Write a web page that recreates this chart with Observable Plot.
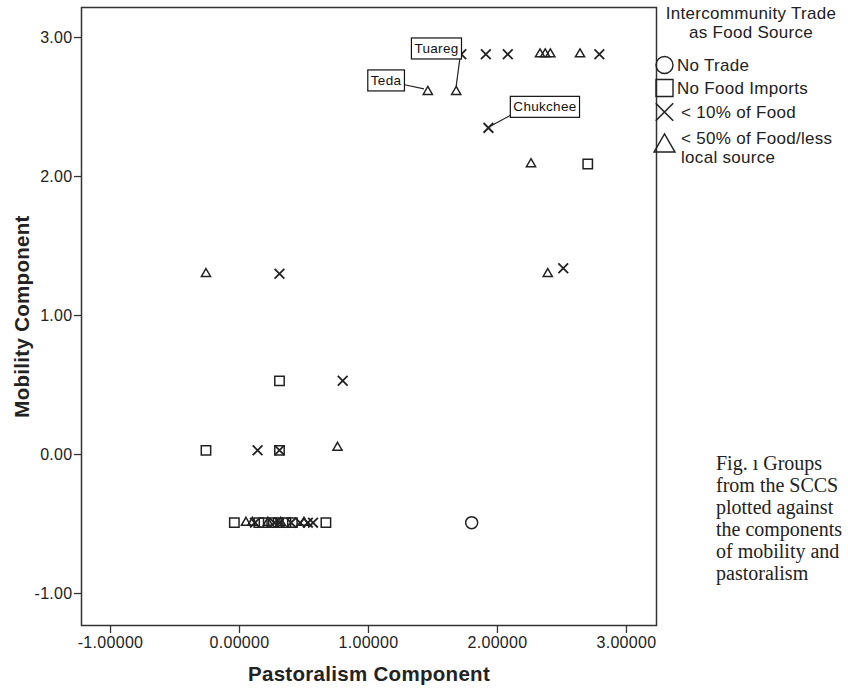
<!DOCTYPE html>
<html><head><meta charset="utf-8">
<script src="https://cdn.jsdelivr.net/npm/d3@7"></script>
<script src="https://cdn.jsdelivr.net/npm/@observablehq/plot@0.6"></script>
<style>
body{margin:0;background:#fff;}
#wrap{position:relative;width:848px;height:689px;overflow:hidden;font-family:"Liberation Sans",Arial,sans-serif;}
#wrap svg text{letter-spacing:0.3px;}
#legend{position:absolute;left:0;top:0;}
#caption{position:absolute;left:716px;top:452px;font-family:"Liberation Serif",serif;font-size:20px;line-height:22px;color:#222;white-space:nowrap;}
</style></head><body><div id="wrap"></div>
<script>
// Categories
const tradeTypes = ["No Trade", "No Food Imports", "< 10% of Food", "< 50% of Food/less local source"];
const legendLines = [["No Trade"], ["No Food Imports"], ["< 10% of Food"], ["< 50% of Food/less", "local source"]];
// Series values (pastoralism component, mobility component, trade type index)
const pastoralism = [
  1.72, 1.91, 2.08, 2.33, 2.37, 2.41, 2.64, 2.79,
  1.46, 1.68, 1.93,
  2.26, 2.70,
  2.39, 2.51,
  -0.26, 0.31,
  0.31, 0.80,
  -0.26, 0.14, 0.31, 0.31, 0.76,
  -0.04, 0.05, 0.10, 0.12, 0.15, 0.19, 0.22, 0.25, 0.27, 0.30, 0.31, 0.32, 0.36, 0.40, 0.41, 0.47, 0.50, 0.53, 0.57, 0.67,
  1.80
];
const mobility = [
  2.88, 2.88, 2.88, 2.88, 2.88, 2.88, 2.88, 2.88,
  2.61, 2.61, 2.35,
  2.09, 2.09,
  1.30, 1.34,
  1.30, 1.30,
  0.53, 0.53,
  0.03, 0.03, 0.03, 0.03, 0.05,
  -0.49, -0.49, -0.49, -0.49, -0.49, -0.49, -0.49, -0.49, -0.49, -0.49, -0.49, -0.49, -0.49, -0.49, -0.49, -0.49, -0.49, -0.49, -0.49, -0.49,
  -0.49
];
const trade = [
  2, 2, 2, 3, 3, 3, 3, 2,
  3, 3, 2,
  3, 1,
  3, 2,
  3, 2,
  1, 2,
  1, 2, 1, 2, 3,
  1, 3, 3, 2, 1, 1, 3, 1, 2, 1, 2, 3, 1, 2, 1, 2, 3, 2, 2, 1,
  0
];
// Tick labels
const xTicks = [-1, 0, 1, 2, 3];
const yTicks = [-1, 0, 1, 2, 3];
// Annotations
const annLabels = ["Teda", "Tuareg", "Chukchee"];
const annX = [1.136, 1.527, 2.368];
const annY = [2.69, 2.92, 2.50];
const annFromX = [1.28, 1.71, 2.12];
const annFromY = [2.66, 2.86, 2.45];
const annToX = [1.43, 1.68, 1.94];
const annToY = [2.63, 2.65, 2.36];

const data = pastoralism.map((x, i) => ({x, y: mobility[i], t: tradeTypes[trade[i]]}));
const ann = annLabels.map((label, i) => ({label, x: annX[i], y: annY[i], x1: annFromX[i], y1: annFromY[i], x2: annToX[i], y2: annToY[i]}));

const symbols = {"No Trade": ["circle", 6], "No Food Imports": ["square", 5.3], "< 10% of Food": ["times", 4.5], "< 50% of Food/less local source": ["triangle", 3.4]};
const ink = "#222";
const hy = f => d => d3.format(f)(d).replace("\u2212", "-");

const plot = Plot.plot({
  width: 848, height: 689,
  marginLeft: 81, marginRight: 192, marginTop: 7, marginBottom: 64,
  x: {domain: [-1.225, 3.233]},
  y: {domain: [-1.23, 3.216]},
  style: {fontFamily: "'Liberation Sans', Arial, sans-serif", background: "#fff", color: ink},
  marks: [
    Plot.axisX({ticks: xTicks, tickFormat: hy(".5f"), tickSize: 8, tickPadding: 3, fontSize: 16, label: null, stroke: "#333", strokeWidth: 1.3}),
    Plot.axisY({ticks: yTicks, tickFormat: hy(".2f"), tickSize: 7, tickPadding: 2, fontSize: 16, label: null, stroke: "#333", strokeWidth: 1.3}),
    Plot.text(["Pastoralism Component"], {frameAnchor: "bottom", dy: 55, fontSize: 20.5, fontWeight: "bold", fill: ink}),
    Plot.text(["Mobility Component"], {frameAnchor: "left", dx: -59, rotate: -90, textAnchor: "middle", lineAnchor: "middle", fontSize: 20.5, fontWeight: "bold", fill: ink}),
    Plot.frame({stroke: "#333", strokeWidth: 1.5}),
    Plot.link(ann, {x1: "x1", y1: "y1", x2: "x2", y2: "y2", stroke: ink, strokeWidth: 1.2}),
    ...tradeTypes.map(t => Plot.dot(data.filter(d => d.t === t), {x: "x", y: "y", symbol: () => symbols[t][0], r: symbols[t][1], stroke: ink, fill: "none", strokeWidth: t === "< 10% of Food" ? 1.8 : 1.5})),
    Plot.text(ann, {x: "x", y: "y", text: "label", fontSize: 13.5, fill: "#111"})
  ]
});

const wrap = document.getElementById("wrap");
wrap.appendChild(plot);

// Boxes behind annotation labels
Array.from(plot.querySelectorAll("text")).filter(t => annLabels.includes(t.textContent)).forEach(t => {
  const b = t.getBBox();
  const r = document.createElementNS("http://www.w3.org/2000/svg", "rect");
  r.setAttribute("x", b.x - 3); r.setAttribute("y", b.y - 3);
  r.setAttribute("width", b.width + 6); r.setAttribute("height", b.height + 6);
  r.setAttribute("fill", "#fff"); r.setAttribute("stroke", "#111"); r.setAttribute("stroke-width", 1.2);
  if (t.getAttribute("transform")) r.setAttribute("transform", t.getAttribute("transform"));
  t.parentNode.insertBefore(r, t);
});

// Legend
const leg = d3.select(wrap).append("svg").attr("id", "legend").attr("width", 848).attr("height", 689)
  .style("font-family", "'Liberation Sans', Arial, sans-serif").style("font-size", "17px");
leg.append("text").attr("x", 751).attr("y", 19).attr("text-anchor", "middle").attr("fill", ink).text("Intercommunity Trade");
leg.append("text").attr("x", 751).attr("y", 38).attr("text-anchor", "middle").attr("fill", ink).text("as Food Source");
const legY = [65, 88, 112, 146];
const textY = [[71], [94], [118], [143.5], [0]];
textY[3].push(163);
const legSym = [d3.symbolCircle, d3.symbolSquare, d3.symbolTimes, d3.symbolTriangle];
const legSize = [Math.PI * 8.5 * 8.5, 17 * 17, 200, 190];
tradeTypes.forEach((t, i) => {
  leg.append("path").attr("d", d3.symbol(legSym[i], legSize[i])()).attr("transform", `translate(664.5,${legY[i]})`)
    .attr("fill", "none").attr("stroke", ink).attr("stroke-width", i === 2 ? 1.6 : 1.4);
  legendLines[i].forEach((line, j) => {
    leg.append("text").attr("x", i >= 2 ? 681 : 677).attr("y", textY[i][j]).attr("fill", ink).text(line);
  });
});

// Caption
const cap = document.createElement("div");
cap.id = "caption";
cap.innerHTML = ["Fig. \u0131 Groups", "from the SCCS", "plotted against", "the components", "of mobility and", "pastoralism"].join("<br>");
wrap.appendChild(cap);
</script>
</body></html>
